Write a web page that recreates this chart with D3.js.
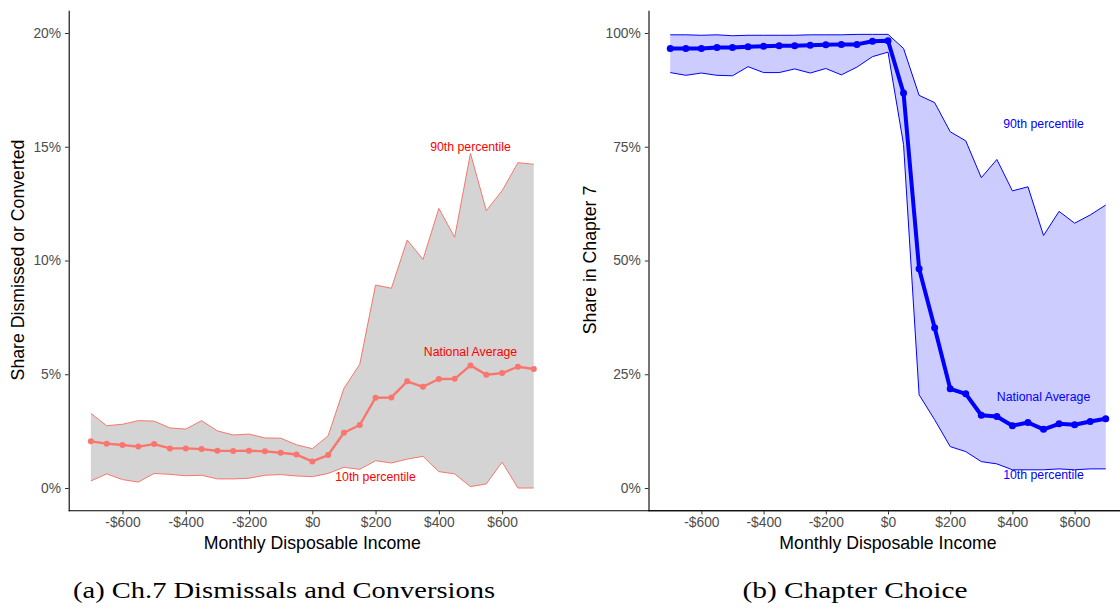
<!DOCTYPE html>
<html>
<head>
<meta charset="utf-8">
<script src="https://cdn.jsdelivr.net/npm/d3@7"></script>
<style>
  body { margin: 0; background: #fff; }
  svg { display: block; font-family: "Liberation Sans", Arial, sans-serif; }
</style>
</head>
<body>
<svg id="chart" width="1120" height="608"></svg>
<script>
// montants du revenu disponible mensuel (axe x)
const income = [-700, -650, -600, -550, -500, -450, -400, -350, -300, -250, -200, -150, -100, -50, 0,
  50, 100, 150, 200, 250, 300, 350, 400, 450, 500, 550, 600, 650, 700];
const incomeTicks = [-600, -400, -200, 0, 200, 400, 600];

// panneau (a) : part rejetee ou convertie, en %
const dismissAvg = [2.05, 1.95, 1.89, 1.82, 1.93, 1.74, 1.74, 1.71, 1.64, 1.63, 1.64, 1.61, 1.55, 1.47, 1.17,
  1.45, 2.43, 2.77, 3.97, 3.98, 4.69, 4.45, 4.79, 4.80, 5.39, 4.98, 5.05, 5.33, 5.23];
const dismissP10 = [0.31, 0.62, 0.37, 0.26, 0.64, 0.60, 0.54, 0.56, 0.40, 0.40, 0.43, 0.56, 0.59, 0.53, 0.50,
  0.64, 0.91, 0.82, 1.20, 1.10, 1.27, 1.39, 0.72, 0.62, 0.06, 0.18, 1.14, 0.0, 0.0];
const dismissP90 = [3.28, 2.74, 2.80, 2.96, 2.94, 2.64, 2.59, 2.96, 2.51, 2.33, 2.37, 2.20, 2.19, 1.90, 1.73,
  2.29, 4.38, 5.44, 8.92, 8.78, 10.90, 10.05, 12.29, 11.02, 14.71, 12.19, 13.07, 14.30, 14.23];
const dismissTicks = [0, 5, 10, 15, 20];

// panneau (b) : part en chapitre 7, en %
const ch7Avg = [96.6, 96.6, 96.6, 96.8, 96.8, 97.0, 97.1, 97.2, 97.2, 97.3, 97.4, 97.5, 97.5, 98.2, 98.3,
  86.8, 48.2, 35.2, 21.8, 20.7, 16.0, 15.7, 13.7, 14.4, 12.9, 14.1, 13.9, 14.6, 15.2];
const ch7P10 = [91.3, 90.7, 91.2, 90.7, 90.6, 92.6, 91.3, 91.3, 92.1, 91.2, 92.2, 90.8, 92.5, 94.8, 95.8,
  75.5, 20.5, 15.0, 9.1, 8.0, 5.8, 5.3, 4.0, 4.0, 4.0, 4.2, 4.0, 4.2, 4.2];
const ch7P90 = [99.6, 99.6, 99.5, 99.6, 99.4, 99.5, 99.5, 99.5, 99.5, 99.6, 99.6, 99.6, 99.7, 99.7, 99.7,
  96.6, 86.3, 84.7, 78.3, 76.3, 68.2, 72.2, 65.3, 66.2, 55.5, 60.8, 58.2, 60.0, 62.2];
const ch7Ticks = [0, 25, 50, 75, 100];

// etiquettes dans le graphique
const dismissLabels = [
  { text: "90th percentile", x: 500, y: 15 },
  { text: "National Average", x: 500, y: 6 },
  { text: "10th percentile", x: 200, y: 0.5 }
];
const ch7Labels = [
  { text: "90th percentile", x: 500, y: 80 },
  { text: "National Average", x: 500, y: 20 },
  { text: "10th percentile", x: 500, y: 3 }
];

let svg = d3.select("#chart");

function dollars(d) {
  return d < 0 ? "-$" + (-d) : "$" + d;
}

function panneau(opts) {
  let g = svg.append("g");
  let x = d3.scaleLinear().domain([-770, 770]).range(opts.xRange);
  let y = d3.scaleLinear().domain(opts.yDomain).range([510.75, 10.25]);

  let rows = income.map((v, i) => ({ x: v, avg: opts.avg[i], lo: opts.lo[i], hi: opts.hi[i] }));

  // zone entre 10e et 90e percentile
  g.append("path")
    .datum(rows)
    .attr("d", d3.area().x(d => x(d.x)).y0(d => y(d.lo)).y1(d => y(d.hi)))
    .attr("fill", opts.fill);

  ["lo", "hi"].forEach(k => {
    g.append("path")
      .datum(rows)
      .attr("d", d3.line().x(d => x(d.x)).y(d => y(d[k])))
      .attr("fill", "none")
      .attr("stroke", opts.color)
      .attr("stroke-width", 1);
  });

  // moyenne nationale
  g.append("path")
    .datum(rows)
    .attr("d", d3.line().x(d => x(d.x)).y(d => y(d.avg)))
    .attr("fill", "none")
    .attr("stroke", opts.color)
    .attr("stroke-width", opts.lineWidth)
    .attr("stroke-linejoin", "round");

  g.selectAll(".pt")
    .data(rows)
    .join("circle")
    .attr("class", "pt")
    .attr("cx", d => x(d.x))
    .attr("cy", d => y(d.avg))
    .attr("r", opts.r)
    .attr("fill", opts.color);

  g.selectAll(".lbl")
    .data(opts.labels)
    .join("text")
    .attr("class", "lbl")
    .attr("x", d => x(d.x))
    .attr("y", d => y(d.y))
    .attr("dy", "0.35em")
    .attr("text-anchor", "middle")
    .attr("font-size", "12.3px")
    .attr("fill", opts.labelColor)
    .text(d => d.text);

  // axes
  let ax = g.append("g")
    .attr("transform", `translate(0,${y.range()[0]})`)
    .call(d3.axisBottom(x).tickValues(incomeTicks).tickFormat(dollars).tickSize(3.7).tickSizeOuter(0).tickPadding(3));
  ax.select(".domain").attr("d", `M${x.range()[0]},0H1125`);

  let ay = g.append("g")
    .attr("transform", `translate(${x.range()[0]},0)`)
    .call(d3.axisLeft(y).tickValues(opts.yTicks).tickFormat(d => d + "%").tickSize(3.7).tickSizeOuter(0).tickPadding(4));

  [ax, ay].forEach(a => {
    a.select(".domain").attr("stroke", "#000").attr("stroke-width", 1.1);
    a.selectAll(".tick line").attr("stroke", "#333");
    a.selectAll(".tick text")
      .attr("fill", "#4d4d4d")
      .attr("font-size", "13.8px")
      .attr("font-family", "Liberation Sans, Arial, sans-serif");
  });

  g.append("text")
    .attr("x", x(0))
    .attr("y", 549)
    .attr("text-anchor", "middle")
    .attr("font-size", "17.7px")
    .attr("fill", "#000")
    .text("Monthly Disposable Income");

  g.append("text")
    .attr("transform", `translate(${opts.yTitleX},260) rotate(-90)`)
    .attr("text-anchor", "middle")
    .attr("font-size", "17.7px")
    .attr("fill", "#000")
    .text(opts.yTitle);

  g.append("text")
    .attr("x", opts.captionX)
    .attr("y", 598)
    .attr("text-anchor", "middle")
    .attr("font-family", "Liberation Serif, 'DejaVu Serif', serif")
    .attr("font-size", "24px")
    .attr("fill", "#000")
    .attr("textLength", opts.captionW)
    .attr("lengthAdjust", "spacingAndGlyphs")
    .text(opts.caption);
}

panneau({
  xRange: [68.7, 555.9],
  yDomain: [-1, 21],
  yTicks: dismissTicks,
  avg: dismissAvg, lo: dismissP10, hi: dismissP90,
  fill: "#d4d4d4", color: "#F8766D", labelColor: "#ff0000",
  lineWidth: 2.4, r: 3,
  labels: dismissLabels,
  yTitle: "Share Dismissed or Converted", yTitleX: 24,
  caption: "(a) Ch.7 Dismissals and Conversions", captionX: 284, captionW: 422
});

panneau({
  xRange: [648.5, 1127.5],
  yDomain: [-5, 105],
  yTicks: ch7Ticks,
  avg: ch7Avg, lo: ch7P10, hi: ch7P90,
  fill: "#ccccff", color: "#0000ff", labelColor: "#0000ff",
  lineWidth: 4, r: 3.5,
  labels: ch7Labels,
  yTitle: "Share in Chapter 7", yTitleX: 596,
  caption: "(b) Chapter Choice", captionX: 855, captionW: 225
});
</script>
</body>
</html>
